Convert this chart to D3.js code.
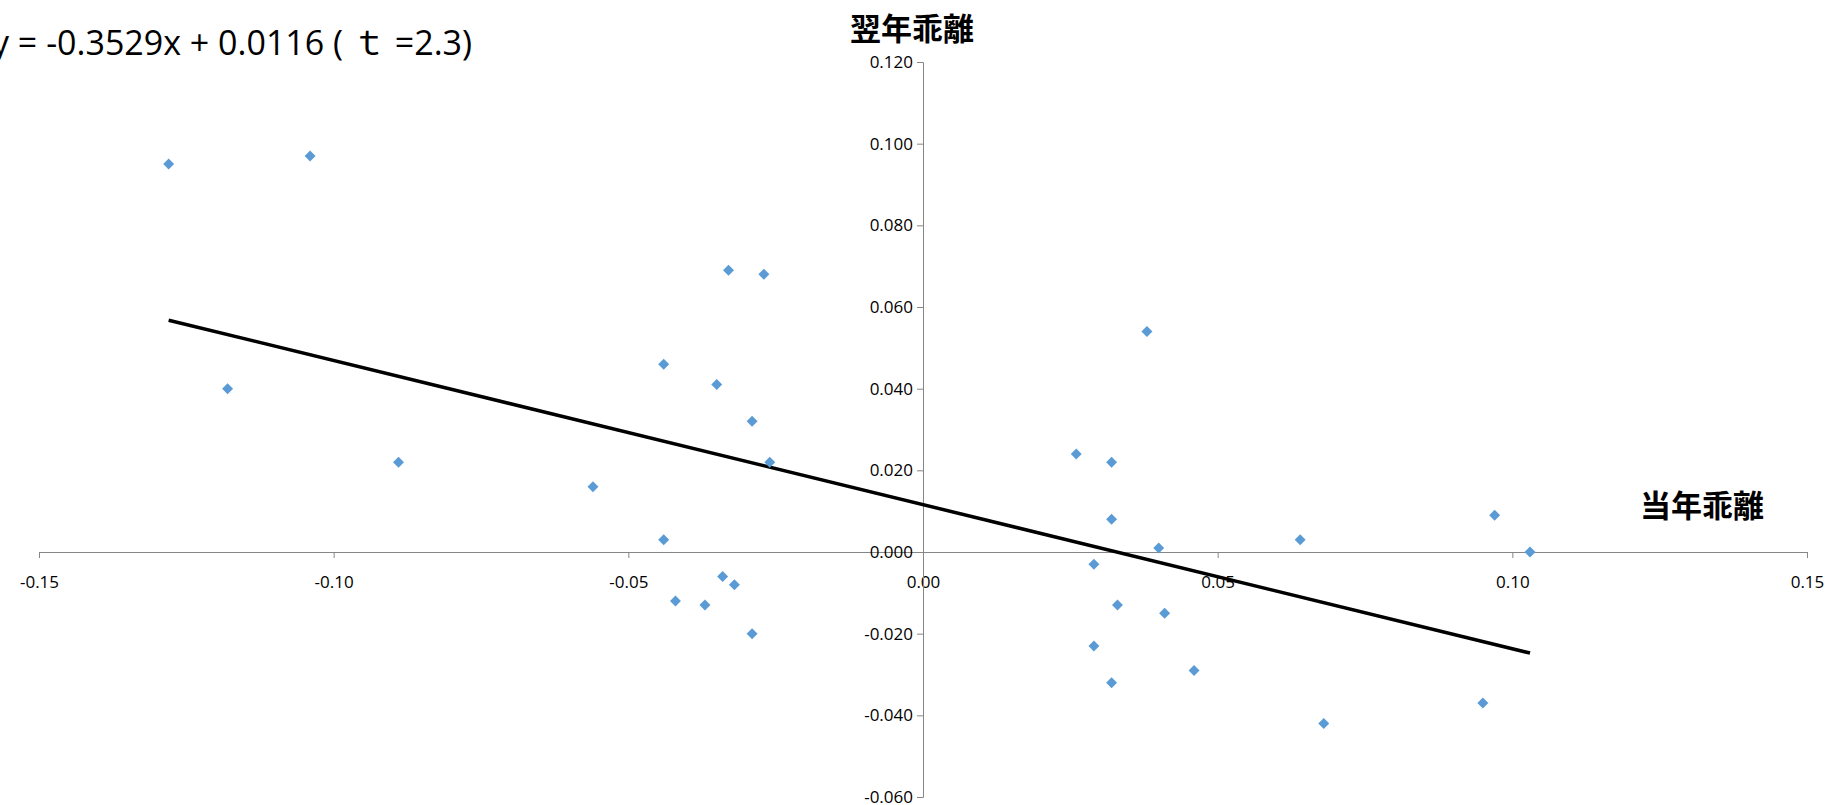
<!DOCTYPE html>
<html><head><meta charset="utf-8">
<script src="https://cdn.jsdelivr.net/npm/d3@7"></script>
<style>body{margin:0;background:#fff}text{font-family:"Open Sans","Noto Sans CJK JP",sans-serif}</style>
</head><body><svg id="c" width="1837" height="805"></svg>
<script>
const xs=[-0.128,-0.104,-0.118,-0.089,-0.056,-0.044,-0.044,-0.035,-0.033,-0.027,-0.029,-0.026,-0.034,-0.032,-0.042,-0.037,-0.029,0.026,0.032,0.038,0.032,0.040,0.029,0.033,0.041,0.029,0.032,0.046,0.064,0.068,0.097,0.103,0.095];
const ys=[0.095,0.097,0.040,0.022,0.016,0.046,0.003,0.041,0.069,0.068,0.032,0.022,-0.006,-0.008,-0.012,-0.013,-0.020,0.024,0.022,0.054,0.008,0.001,-0.003,-0.013,-0.015,-0.023,-0.032,-0.029,0.003,-0.042,0.009,0.000,-0.037];
const slope=-0.3529, intercept=0.0116, trendX=[-0.128,0.103];
const xTicks=[-0.15,-0.10,-0.05,0.00,0.05,0.10,0.15];
const yTicks=[-0.06,-0.04,-0.02,0,0.02,0.04,0.06,0.08,0.10,0.12];
const svg=d3.select("#c");
const x=d3.scaleLinear().domain([-0.15,0.15]).range([39,1807]);
const y=d3.scaleLinear().domain([-0.06,0.12]).range([797,62]);
const fx=d=>d3.format(".2f")(d).replace("−","-"), fy=d=>d3.format(".3f")(d).replace("−","-");
const gx=svg.append("g").attr("transform",`translate(0,${y(0)})`)
 .call(d3.axisBottom(x).tickValues(xTicks).tickFormat(fx).tickSize(6).tickPadding(18));
const gy=svg.append("g").attr("transform",`translate(${x(0)},0)`)
 .call(d3.axisLeft(y).tickValues(yTicks).tickFormat(fy).tickSize(6).tickPadding(4));
[gx,gy].forEach(g=>{g.selectAll("path,line").attr("stroke","#868686");g.selectAll("text").attr("font-size",17).attr("fill","#000");});
gy.selectAll("text").attr("dy","0.32em");
svg.append("line").attr("x1",x(trendX[0])).attr("y1",y(slope*trendX[0]+intercept))
 .attr("x2",x(trendX[1])).attr("y2",y(slope*trendX[1]+intercept)).attr("stroke","#000").attr("stroke-width",3.5);
svg.selectAll(".p").data(xs).join("path").attr("d",d3.symbol(d3.symbolSquare,60))
 .attr("transform",(d,i)=>`translate(${x(d)},${y(ys[i])}) rotate(45)`).attr("fill","#5b9bd5");
svg.append("text").attr("x",-8).attr("y",55).attr("font-size",34).text("y = -0.3529x + 0.0116 ( ｔ =2.3)");
svg.append("text").attr("x",912).attr("y",40).attr("text-anchor","middle").attr("font-size",31).attr("font-weight","bold").text("翌年乖離");
svg.append("text").attr("x",1702).attr("y",517).attr("text-anchor","middle").attr("font-size",31).attr("font-weight","bold").text("当年乖離");
</script></body></html>
